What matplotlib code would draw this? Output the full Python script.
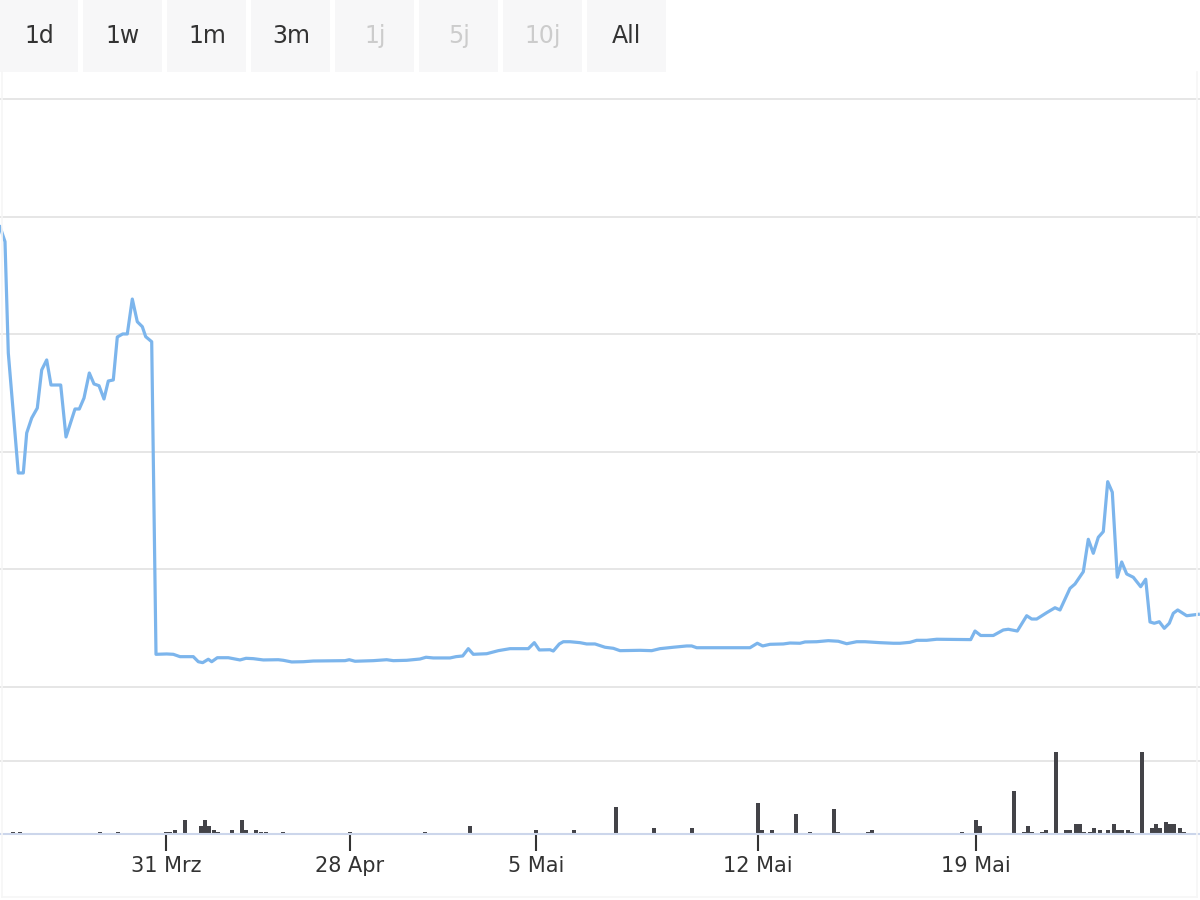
import numpy as np
import matplotlib
matplotlib.use("Agg")
import matplotlib.pyplot as plt
from matplotlib.patches import Rectangle
from matplotlib.lines import Line2D

# ordinal time axis: position of each sample along the navigator (0..1200)
t = [0, 5, 8.3, 18.3, 23.3, 26.7, 31.7, 37.3, 41.7, 46.7, 51, 60.7, 66, 75, 79.3,
     84, 89.3, 94, 99, 104, 108.3, 113.3, 117.3, 122.7, 127.3, 132.3, 137.3, 142.3,
     145.7, 151.7, 156, 166.7, 173.3, 180, 193.3, 198.3, 202.7, 208.3, 211.7, 217.3,
     228.3, 240, 246, 253.3, 263.3, 278.3, 283.3, 291.7, 303.3, 313.3, 345, 349.3,
     355, 373.3, 386.7, 393.3, 406.7, 420, 426, 433.3, 450, 456, 462.7, 468.3, 473.3,
     486.7, 498.3, 510, 528.3, 534.3, 539.3, 550, 553.3, 559.3, 563.3, 570, 580,
     586.7, 595, 605, 613.3, 620, 640, 651.7, 660, 673.3, 686.7, 691.7, 696.7, 750,
     757.3, 762.7, 770, 783.3, 790, 800, 805, 816.7, 828.3, 838.3, 846.7, 856.7, 865,
     880, 893.3, 900, 910, 916.7, 926.7, 936.7, 970.7, 975, 980.7, 993.3, 1003.3,
     1008.3, 1017.3, 1026.7, 1031.7, 1036.7, 1046.7, 1055, 1060, 1065, 1070, 1075,
     1083.3, 1088.3, 1093.3, 1098.3, 1103.3, 1107.7, 1112.3, 1117.3, 1121.7, 1126.7,
     1133.3, 1140.7, 1145.7, 1150, 1154.3, 1159.3, 1164.3, 1169.3, 1173.3, 1177.7,
     1186.7, 1198.3]
price = [3.914, 3.787, 2.840, 1.820, 1.820, 2.160, 2.287, 2.372, 2.696, 2.781, 2.568,
         2.568, 2.126, 2.364, 2.364, 2.457, 2.670, 2.577, 2.562, 2.449, 2.602, 2.611,
         2.976, 3.002, 3.002, 3.299, 3.106, 3.064, 2.979, 2.936, 0.278, 0.281, 0.278,
         0.258, 0.258, 0.215, 0.207, 0.236, 0.215, 0.249, 0.249, 0.230, 0.244, 0.241,
         0.230, 0.232, 0.227, 0.213, 0.215, 0.221, 0.224, 0.232, 0.219, 0.224, 0.232,
         0.224, 0.227, 0.238, 0.253, 0.247, 0.247, 0.258, 0.264, 0.326, 0.278, 0.283,
         0.309, 0.326, 0.326, 0.377, 0.315, 0.317, 0.306, 0.366, 0.385, 0.385, 0.377,
         0.366, 0.366, 0.338, 0.329, 0.309, 0.312, 0.309, 0.326, 0.338, 0.349, 0.349,
         0.334, 0.334, 0.372, 0.349, 0.363, 0.366, 0.374, 0.372, 0.383, 0.385, 0.394,
         0.389, 0.368, 0.385, 0.385, 0.377, 0.372, 0.372, 0.380, 0.397, 0.397, 0.406,
         0.403, 0.476, 0.438, 0.438, 0.485, 0.491, 0.476, 0.606, 0.578, 0.578, 0.632,
         0.674, 0.655, 0.746, 0.839, 0.876, 0.980, 1.256, 1.137, 1.273, 1.321, 1.746,
         1.656, 0.933, 1.063, 0.961, 0.933, 0.853, 0.916, 0.553, 0.542, 0.555, 0.499,
         0.542, 0.627, 0.655, 0.606, 0.618]

vol_t = [13, 20, 100, 118, 166, 170, 175, 185, 201, 205, 209, 214, 218, 232, 242, 246,
         256, 261, 266, 283, 350, 425, 470, 536, 574, 616, 654, 692, 758, 762, 772,
         796, 810, 834, 838, 868, 872, 962, 976, 980, 1014, 1024, 1028, 1032, 1042,
         1046, 1056, 1066, 1070, 1076, 1080, 1084, 1090, 1094, 1100, 1108, 1114, 1118,
         1122, 1128, 1132, 1142, 1152, 1156, 1160, 1166, 1170, 1174, 1180, 1184]
vol = [1, 1, 1, 1, 1, 1, 2, 7, 4, 7, 4, 2, 1, 2, 7, 2,
       2, 1, 1, 1, 1, 1, 4, 2, 2, 13, 3, 3, 15, 2, 2,
       10, 1, 12, 1, 1, 2, 1, 7, 4, 21, 1, 4, 1, 1,
       2, 40, 2, 2, 5, 5, 1, 1, 3, 2, 2, 5, 2,
       2, 2, 1, 40, 3, 5, 3, 6, 5, 5, 3, 1]

tick_pos = [166, 350, 536, 758, 976]
tick_labels = ["31 Mrz", "28 Apr", "5 Mai", "12 Mai", "19 Mai"]

buttons = ["1d", "1w", "1m", "3m", "1j", "5j", "10j", "All"]
button_on = [True, True, True, True, False, False, False, True]

W, H = 1200, 900
fig = plt.figure(figsize=(12, 9), dpi=100)


def fy(py):
    return 1 - py / H


# price pane: gridlines every 117.6 px between y=99 and y=687
unit = 117.6
pad = 0.2
ax = fig.add_axes([0, fy(687 + pad * unit), 1, (588 + 2 * pad * unit) / H])
ax.plot(t, price, color="#7cb5ec", lw=2.3, solid_joinstyle="round", zorder=3)
ax.set_xlim(0, 1200)
ax.set_ylim(-pad, 5 + pad)
ax.set_yticks(range(6))
ax.set_xticks([])
ax.grid(axis="y", color="#e6e6e6", lw=1.4)
ax.tick_params(left=False, labelleft=False)
for s in ax.spines.values():
    s.set_visible(False)
ax.patch.set_alpha(0)

# volume pane
vunit = 2.05  # px per volume unit
vtop = 73 / vunit
axv = fig.add_axes([0, fy(834), 1, 84 / H])
axv.bar(vol_t, vol, width=3.6, color="#434348", zorder=2)
axv.set_xlim(0, 1200)
axv.set_ylim(0, 84 / vunit)
axv.set_yticks([vtop])
axv.grid(axis="y", color="#e6e6e6", lw=1.4, zorder=0)
axv.tick_params(left=False, labelleft=False)
axv.set_xticks(tick_pos, tick_labels)
axv.tick_params(axis="x", direction="out", length=12.5, width=1.5, color="#333333",
                labelsize=15, labelcolor="#333333", pad=3)
for k in ["top", "left", "right"]:
    axv.spines[k].set_visible(False)
axv.spines["bottom"].set_color("#ccd6eb")
axv.spines["bottom"].set_linewidth(1.5)
axv.spines["bottom"].set_zorder(3)
axv.patch.set_alpha(0)

# range selector buttons
for i, (lab, on) in enumerate(zip(buttons, button_on)):
    x0 = -1 + i * 84
    fig.add_artist(Rectangle((x0 / W, fy(72)), 79 / W, 72 / H, transform=fig.transFigure,
                             facecolor="#f7f7f8", edgecolor="none"))
    fig.text((x0 + 40) / W, fy(36), lab, ha="center", va="center", fontsize=17,
             color="#333333" if on else "#cccccc")

# faint chart border
for xs, ys in [([1.5, 1.5], [72, 897]), ([1197, 1197], [72, 897]), ([1.5, 1197], [897, 897])]:
    fig.add_artist(Line2D([x / W for x in xs], [fy(y) for y in ys],
                          transform=fig.transFigure, color="#f6f6f6", lw=1.2))

fig.savefig("out.png", dpi=100)
